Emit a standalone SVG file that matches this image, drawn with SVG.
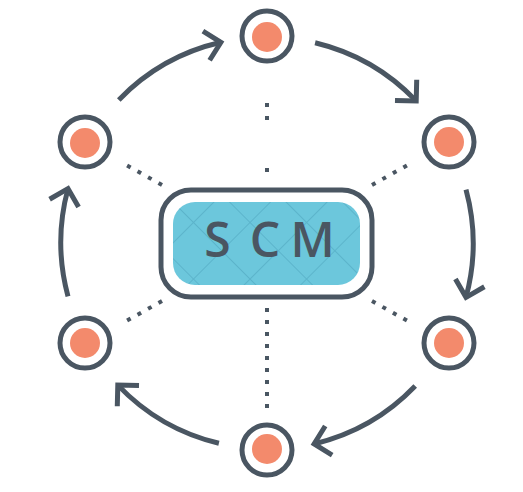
<svg xmlns="http://www.w3.org/2000/svg" width="523" height="492" viewBox="0 0 523 492">
<style>
.ring{fill:#fff;stroke:#4A5662;stroke-width:5}
.dot{fill:#F38A6C}
.arc{fill:none;stroke:#4A5662;stroke-width:5;marker-end:url(#arrow)}
.dots{fill:none;stroke:#4A5662;stroke-width:4;stroke-dasharray:4 8}
.lbl{font-family:"Open Sans","DejaVu Sans",sans-serif;font-size:48px;font-weight:600;fill:#4A5662;text-anchor:middle}
</style>
<defs>
<marker id="arrow" markerUnits="userSpaceOnUse" markerWidth="40" markerHeight="40" refX="0" refY="0" orient="auto" overflow="visible">
<path d="M-15,-15 L0,0 L-15,15" fill="none" stroke="#4A5662" stroke-width="5" stroke-linejoin="miter"/>
</marker>
<pattern id="hatch" patternUnits="userSpaceOnUse" width="40" height="40" patternTransform="rotate(45 267 243)">
<rect width="40" height="40" fill="#6CC7DC"/>
<path d="M0,0H40M0,0V40" stroke="#5CB4CB" stroke-width="2"/>
</pattern>
</defs>
<g id="connectors">
<path class="dots" d="M267,103v4M267,116v4M267,168v4"/>
<path class="dots" d="M267,308V416"/>
<path class="dots" d="M162,185L121,162"/>
<path class="dots" d="M372,185L413,162"/>
<path class="dots" d="M372,301L413,324"/>
<path class="dots" d="M162,301L121,324"/>
<path class="arc" d="M118.8,99.9A206,206 0 0 1 220.9,42.3"/>
<path class="arc" d="M315.1,42.7A206,206 0 0 1 416.2,100.9"/>
<path class="arc" d="M466,189.7A206,206 0 0 1 466,297.3"/>
<path class="arc" d="M415.2,386.1A206,206 0 0 1 314.1,444"/>
<path class="arc" d="M218.9,443.3A206,206 0 0 1 117.8,385.1"/>
<path class="arc" d="M68,296.3A206,206 0 0 1 68,188.7"/>
</g>
<g id="center">
<rect x="161" y="190" width="211" height="107" rx="30" fill="#fff" stroke="#4A5662" stroke-width="5"/>
<rect x="173" y="202" width="187" height="83" rx="22" fill="url(#hatch)"/>
<text class="lbl" x="217.5 265 312.5" y="257">SCM</text>
</g>
<g id="n-top"><circle class="ring" cx="267" cy="36" r="25"/><circle class="dot" cx="267" cy="37" r="15"/></g>
<g id="n-right-top"><circle class="ring" cx="449" cy="142" r="25"/><circle class="dot" cx="449" cy="142" r="15"/></g>
<g id="n-right-bottom"><circle class="ring" cx="449" cy="343" r="25"/><circle class="dot" cx="449" cy="343" r="15"/></g>
<g id="n-bottom"><circle class="ring" cx="267" cy="450" r="25"/><circle class="dot" cx="267" cy="449" r="15"/></g>
<g id="n-left-bottom"><circle class="ring" cx="85" cy="343" r="25"/><circle class="dot" cx="85" cy="343" r="15"/></g>
<g id="n-left-top"><circle class="ring" cx="85" cy="142" r="25"/><circle class="dot" cx="85" cy="143" r="15"/></g>
</svg>
